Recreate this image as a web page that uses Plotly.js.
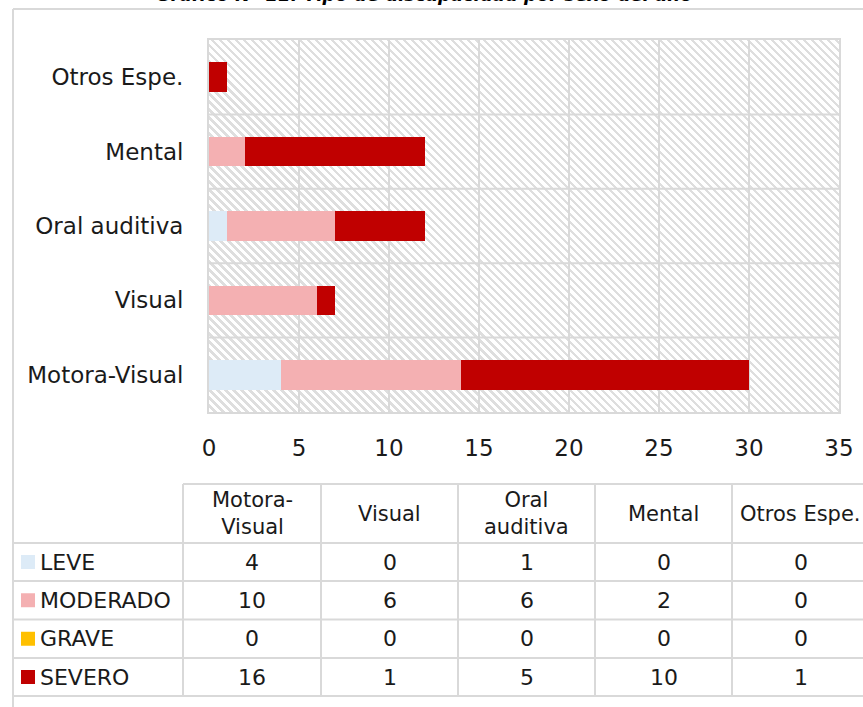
<!DOCTYPE html>
<html><head><meta charset="utf-8">
<script src="https://cdn.plot.ly/plotly-3.0.1.min.js"></script>
<style>
html,body{margin:0;padding:0;background:#fff;}
#wrap{position:relative;width:863px;height:707px;overflow:hidden;}
#hatch{position:absolute;left:209px;top:40px;width:630px;height:372px;
  background:repeating-linear-gradient(45deg,#ffffff 0px,#ffffff 3.4px,#dedede 3.4px,#dedede 5.66px);}
#chart{position:absolute;left:0;top:0;width:863px;height:707px;}
</style></head><body>
<div id="wrap"><div id="hatch"></div><div id="chart"></div></div>
<script>
// ---- data ----
const categories = ["Motora-Visual", "Visual", "Oral auditiva", "Mental", "Otros Espe."];
const headerLabels = ["Motora-<br>Visual", "Visual", "Oral<br>auditiva", "Mental", "Otros Espe."];
const seriesNames = ["LEVE", "MODERADO", "GRAVE", "SEVERO"];
const leve = [4, 0, 1, 0, 0];
const moderado = [10, 6, 6, 2, 0];
const grave = [0, 0, 0, 0, 0];
const severo = [16, 1, 5, 10, 1];
const xTickVals = [0, 5, 10, 15, 20, 25, 30, 35];
const titleText = "Gráfico N° 11: Tipo de discapacidad por sexo del año";

// ---- style ----
const seriesColors = ["#DDEBF7", "#F4B0B2", "#FFC000", "#C00000"];
const FONT = "DejaVu Sans";
const TXT = "#1a1a1a";
const GRID = "#d9d9d9";
const W = 863, H = 707;
const PL = 209, PR = 839, PT = 40, PB = 412;
const px = x => (x - PL) / (PR - PL);
const py = y => (PB - y) / (PB - PT);

const seriesValues = [leve, moderado, grave, severo];
const traces = seriesNames.map((n, i) => ({
  type: "bar", orientation: "h", name: n,
  y: categories, x: seriesValues[i],
  marker: {color: seriesColors[i], line: {width: 0}},
  hoverinfo: "name+x"
}));

const shapes = [];
const annotations = [];
// horizontal category boundary lines in plot
for (let k = 0; k < categories.length - 1; k++) {
  shapes.push({type: "line", xref: "paper", yref: "y", x0: 0, x1: 1, y0: k + 0.5, y1: k + 0.5,
    line: {color: GRID, width: 2}, layer: "below"});
}
// outer frame
shapes.push({type: "line", xref: "paper", yref: "paper", x0: px(13), x1: px(W + 5), y0: py(9), y1: py(9), line: {color: GRID, width: 2}});
shapes.push({type: "line", xref: "paper", yref: "paper", x0: px(13), x1: px(13), y0: py(9), y1: py(H + 5), line: {color: GRID, width: 2}});

// data table
const colEdges = [183, 321, 458, 595, 732, 869];
const rowEdges = [484, 543, 581, 619.5, 658, 696];
shapes.push({type: "line", xref: "paper", yref: "paper", x0: px(183), x1: px(W + 5), y0: py(484), y1: py(484), line: {color: GRID, width: 2}});
for (let r = 1; r < rowEdges.length; r++) {
  shapes.push({type: "line", xref: "paper", yref: "paper", x0: px(13), x1: px(W + 5), y0: py(rowEdges[r]), y1: py(rowEdges[r]), line: {color: GRID, width: 2}});
}
for (let c = 0; c < colEdges.length; c++) {
  shapes.push({type: "line", xref: "paper", yref: "paper", x0: px(colEdges[c]), x1: px(colEdges[c]), y0: py(484), y1: py(696), line: {color: GRID, width: 2}});
}
// header
headerLabels.forEach((h, j) => {
  annotations.push({xref: "paper", yref: "paper", x: px((colEdges[j] + colEdges[j + 1]) / 2), y: py((rowEdges[0] + rowEdges[1]) / 2),
    text: h, showarrow: false, xanchor: "center", yanchor: "middle", align: "center",
    font: {family: FONT, size: 21, color: TXT}});
});
// rows
seriesNames.forEach((n, i) => {
  const yc = (rowEdges[i + 1] + rowEdges[i + 2]) / 2;
  shapes.push({type: "rect", xref: "paper", yref: "paper", x0: px(21), x1: px(35), y0: py(yc - 7), y1: py(yc + 7),
    fillcolor: seriesColors[i], line: {width: 0}});
  annotations.push({xref: "paper", yref: "paper", x: px(38), y: py(yc), text: n, showarrow: false,
    xanchor: "left", yanchor: "middle", font: {family: FONT, size: 22, color: TXT}});
  seriesValues[i].forEach((v, j) => {
    annotations.push({xref: "paper", yref: "paper", x: px((colEdges[j] + colEdges[j + 1]) / 2), y: py(yc),
      text: String(v), showarrow: false, xanchor: "center", yanchor: "middle",
      font: {family: FONT, size: 22, color: TXT}});
  });
});
// clipped title (the reference shows only the lower edge of this line)
annotations.push({xref: "paper", yref: "paper", x: px(424), y: py(7), text: "<b><i>" + titleText + "</i></b>",
  showarrow: false, xanchor: "center", yanchor: "bottom", font: {family: FONT, size: 18, color: "#000"}});

const layout = {
  width: W, height: H, autosize: false,
  margin: {l: PL, r: W - PR, t: PT, b: H - PB, pad: 0},
  paper_bgcolor: "rgba(0,0,0,0)", plot_bgcolor: "rgba(0,0,0,0)",
  barmode: "stack", bargap: 0.6, showlegend: false,
  font: {family: FONT, size: 23, color: TXT},
  xaxis: {range: [0, 35], tickvals: xTickVals, ticktext: xTickVals.map(String), showgrid: true, gridcolor: GRID, gridwidth: 2,
    zeroline: false, showline: true, mirror: true, linecolor: GRID, linewidth: 2, ticks: "", ticklabelstandoff: 14,
    tickfont: {family: FONT, size: 23, color: TXT}, fixedrange: true},
  yaxis: {type: "category", categoryorder: "array", categoryarray: categories, range: [-0.5, categories.length - 0.5],
    showgrid: false, zeroline: false, showline: true, mirror: true, linecolor: GRID, linewidth: 2, ticks: "",
    ticklabelstandoff: 19, tickfont: {family: FONT, size: 23, color: TXT}, fixedrange: true},
  shapes: shapes, annotations: annotations
};
Plotly.newPlot("chart", traces, layout, {displayModeBar: false, staticPlot: true});
</script>
</body></html>
